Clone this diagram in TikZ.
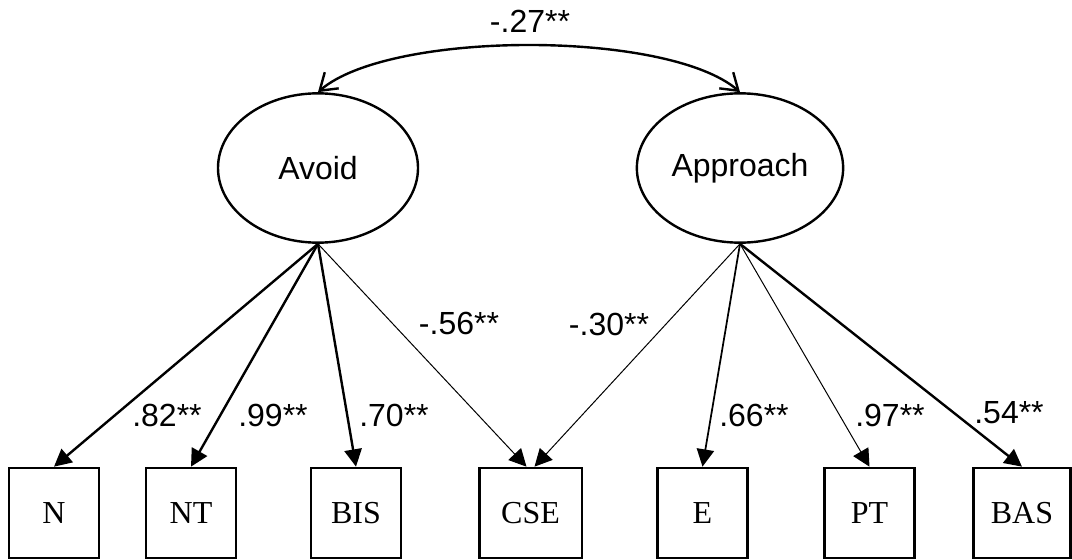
\documentclass[tikz,border=0pt]{standalone}
\usepackage{fontspec}
\setmainfont{Liberation Serif}
\setsansfont{Liberation Sans}
\usetikzlibrary{arrows.meta,shapes.geometric}

\begin{document}
\begin{tikzpicture}[x=0.75pt, y=-0.75pt,
    latent/.style={draw, ellipse, line width=1.8pt, minimum width=150pt, minimum height=112pt, font=\sffamily\fontsize{24}{28}\selectfont},
    observed/.style={draw, rectangle, line width=2pt, minimum width=67.5pt, minimum height=67.5pt, font=\fontsize{24}{28}\selectfont},
    coef/.style={font=\sffamily\fontsize{24}{28}\selectfont, inner sep=0pt},
    load/.style={-{Triangle[length=13pt, width=13pt]}}]
                    \useasboundingbox (0,0) rectangle (1072,560);
                    
                    \node[latent] (avoid) at (318,168) {Avoid};
                    \node[latent] (approach) at (740,168) {Approach};
                    
                    \node[observed] (n) at (54,513) {N};
                    \node[observed] (nt) at (191,513) {NT};
                    \node[observed] (bis) at (356,513) {BIS};
                    \node[observed, minimum width=77pt] (cse) at (530.5,513) {CSE};
                    \node[observed] (e) at (702.5,513) {E};
                    \node[observed] (pt) at (869.5,513) {PT};
                    \node[observed, minimum width=73pt] (bas) at (1022,513) {BAS};
                    
                    \draw[line width=1.8pt, {Straight Barb[length=12pt, width=16pt]}-{Straight Barb[length=12pt, width=16pt]}]
                        (avoid.north) .. controls (390,30) and (668,30) .. (approach.north);
                    \node[coef] (r) at (530,21) {-.27**};
                    
                    \draw[load, line width=1.8pt] (avoid.south) -- (n.north);
                    \draw[load, line width=1.8pt] (avoid.south) -- (nt.north);
                    \draw[load, line width=1.8pt] (avoid.south) -- (bis.north);
                    \draw[load, line width=0.75pt] (avoid.south) -- ([xshift=-3pt]cse.north);
                    \draw[load, line width=0.75pt] (approach.south) -- ([xshift=3pt]cse.north);
                    \draw[load, line width=1.3pt] (approach.south) -- (e.north);
                    \draw[load, line width=0.75pt] (approach.south) -- (pt.north);
                    \draw[load, line width=1.8pt] (approach.south) -- (bas.north);
                    
                    \node[coef] (ln) at (167,415) {.82**};
                    \node[coef] (lnt) at (273,415) {.99**};
                    \node[coef] (lbis) at (394,415) {.70**};
                    \node[coef] (lcsea) at (459,323) {-.56**};
                    \node[coef] (lcseb) at (609,324) {-.30**};
                    \node[coef] (le) at (754,415) {.66**};
                    \node[coef] (lpt) at (890,415) {.97**};
                    \node[coef] (lbas) at (1009,413) {.54**};
                \end{tikzpicture}
\end{document}
